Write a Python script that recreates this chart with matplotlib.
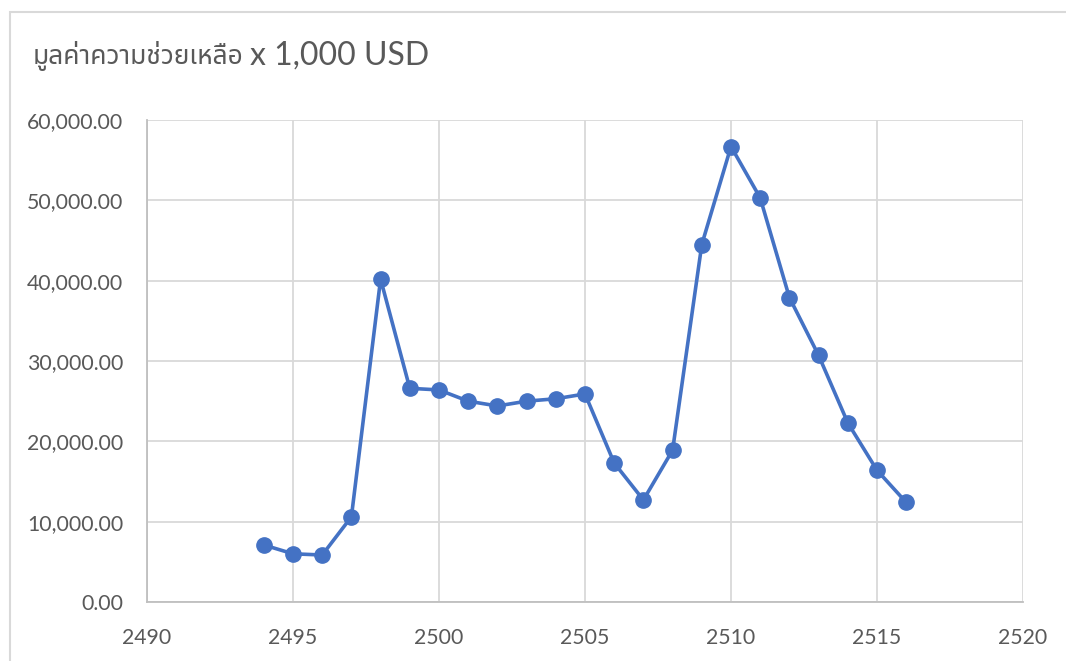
import matplotlib
matplotlib.use('Agg')
import matplotlib.pyplot as plt
from matplotlib.patches import Rectangle
from matplotlib.ticker import FuncFormatter

# years (Thai Buddhist era) and aid values, x 1,000 USD
years = [2494, 2495, 2496, 2497, 2498, 2499, 2500, 2501, 2502, 2503, 2504, 2505,
         2506, 2507, 2508, 2509, 2510, 2511, 2512, 2513, 2514, 2515, 2516]
aid = [7100, 6000, 5850, 10600, 40200, 26600, 26400, 25000, 24400, 25000, 25300, 25900,
       17300, 12700, 18900, 44500, 56700, 50300, 37900, 30700, 22300, 16400, 12400]

title_th = 'มูลค่าความช่วยเหลือ'
title_en = 'x 1,000 USD'

plt.rcParams['font.family'] = ['Lato', 'Noto Sans Thai', 'DejaVu Sans']

fig = plt.figure(figsize=(10.66, 6.61), dpi=100)
ax = fig.add_axes([147/1066, 1 - 602/661, (1023 - 147)/1066, (602 - 120)/661])

# chart area border
fig.patches.append(Rectangle((10/1066, -0.05), 1.2, 1 - 12/661 + 0.05,
                             transform=fig.transFigure, fill=False,
                             edgecolor='#d9d9d9', lw=1.5))

ax.plot(years, aid, color='#4472C4', lw=2.6, marker='o', markersize=11, zorder=3)

ax.set_xlim(2490, 2520)
ax.set_ylim(0, 60000)
ax.set_xticks(range(2490, 2521, 5))
ax.set_yticks(range(0, 60001, 10000))
ax.yaxis.set_major_formatter(FuncFormatter(lambda v, p: f'{v:,.2f}'))
ax.grid(True, color='#d9d9d9', lw=1.3)
ax.set_axisbelow(True)
for s in ['top', 'right']:
    ax.spines[s].set_visible(False)
for s in ['left', 'bottom']:
    ax.spines[s].set_color('#bfbfbf')
    ax.spines[s].set_linewidth(1.3)
ax.tick_params(length=0, labelsize=15.3, labelcolor='#595959')
ax.tick_params(axis='y', pad=17)
ax.tick_params(axis='x', pad=19)

fig.text(33/1066, 1 - 56/661, title_th, fontsize=19, color='#595959', va='center',
         family=['Noto Sans Thai', 'Lato'])
fig.text(250/1066, 1 - 56/661, title_en, fontsize=23, color='#595959', va='center')

fig.savefig('out.png')
